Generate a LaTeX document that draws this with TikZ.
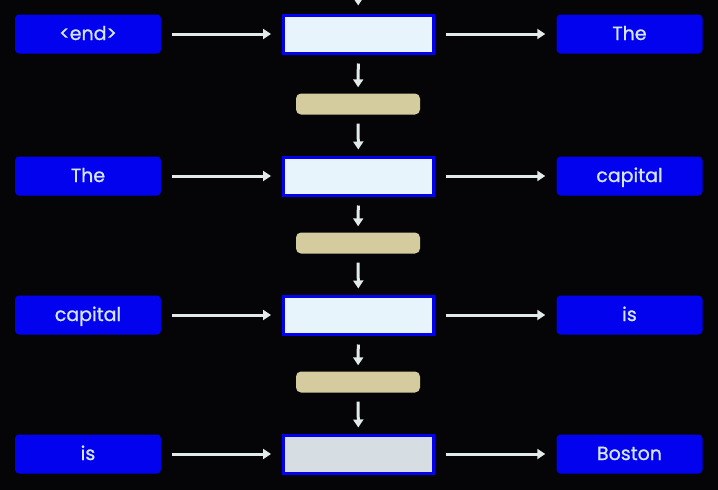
\documentclass[tikz,border=0pt]{standalone}
\usepackage{fontspec}
\setmainfont{Poppins}[FakeBold=0.9]
\usetikzlibrary{positioning,arrows.meta}

\definecolor{bg}{HTML}{050508}
\definecolor{tokblue}{HTML}{0202EE}
\definecolor{toktext}{HTML}{D6E6FA}
\definecolor{cellfill}{HTML}{E8F4FC}
\definecolor{cellgray}{HTML}{D6DEE4}
\definecolor{statetan}{HTML}{D4CB9E}
\definecolor{arrowc}{HTML}{E2EAEA}

\begin{document}
\begin{tikzpicture}[
        x=1pt, y=1pt,
        token/.style = {rectangle, rounded corners=4pt, fill=tokblue, text=toktext,
                        minimum width=146pt, minimum height=39pt, inner sep=0pt,
                        text height=15pt, text depth=3pt,
                        font=\fontsize{19}{22}\selectfont},
        cell/.style = {rectangle, draw=tokblue, line width=3pt, fill=cellfill,
                       minimum width=150pt, minimum height=38pt, inner sep=0pt},
        hidden/.style = {rectangle, rounded corners=5pt, fill=statetan,
                         minimum width=124pt, minimum height=21pt, inner sep=0pt},
        flow/.style = {draw=arrowc, line width=3pt, -{Triangle[length=8pt,width=10pt]}}
    ]
 \fill[bg] (0,0) rectangle (718,-490);
 \clip (0,0) rectangle (718,-490);
 % inputs
 \node[token] (in1) at (88,-34) {<end>};
 \node[token] (in2) at (88,-176) {The};
 \node[token] (in3) at (88,-315) {capital};
 \node[token] (in4) at (88,-454) {is};
 % recurrent cells
 \node[cell] (c1) at (358.5,-34) {};
 \node[cell] (c2) at (358.5,-176) {};
 \node[cell] (c3) at (358.5,-315) {};
 \node[cell, fill=cellgray] (c4) at (358.5,-454) {};
 % hidden states
 \node[hidden] (h1) at (358,-104) {};
 \node[hidden] (h2) at (358,-243) {};
 \node[hidden] (h3) at (358,-382) {};
 % outputs
 \node[token] (out1) at (629.5,-34) {The};
 \node[token] (out2) at (629.5,-176) {capital};
 \node[token] (out3) at (629.5,-315) {is};
 \node[token] (out4) at (629.5,-454) {Boston};
 \coordinate (top) at (358,20);
 % arrows
 \draw[flow, shorten >=8pt] (top) -- (c1);
 \draw[flow, shorten <=11pt, shorten >=11pt] (in1) -- (c1);
 \draw[flow, shorten <=11pt, shorten >=11pt] (in2) -- (c2);
 \draw[flow, shorten <=11pt, shorten >=11pt] (in3) -- (c3);
 \draw[flow, shorten <=11pt, shorten >=11pt] (in4) -- (c4);
 \draw[flow, shorten <=11pt, shorten >=11pt] (c1) -- (out1);
 \draw[flow, shorten <=11pt, shorten >=11pt] (c2) -- (out2);
 \draw[flow, shorten <=11pt, shorten >=11pt] (c3) -- (out3);
 \draw[flow, shorten <=11pt, shorten >=11pt] (c4) -- (out4);
 \draw[flow, shorten <=9pt, shorten >=6pt] (c1) -- (h1);
 \draw[flow, shorten <=9pt, shorten >=6pt] (h1) -- (c2);
 \draw[flow, shorten <=9pt, shorten >=6pt] (c2) -- (h2);
 \draw[flow, shorten <=9pt, shorten >=6pt] (h2) -- (c3);
 \draw[flow, shorten <=9pt, shorten >=6pt] (c3) -- (h3);
 \draw[flow, shorten <=9pt, shorten >=6pt] (h3) -- (c4);
\end{tikzpicture}
\end{document}
